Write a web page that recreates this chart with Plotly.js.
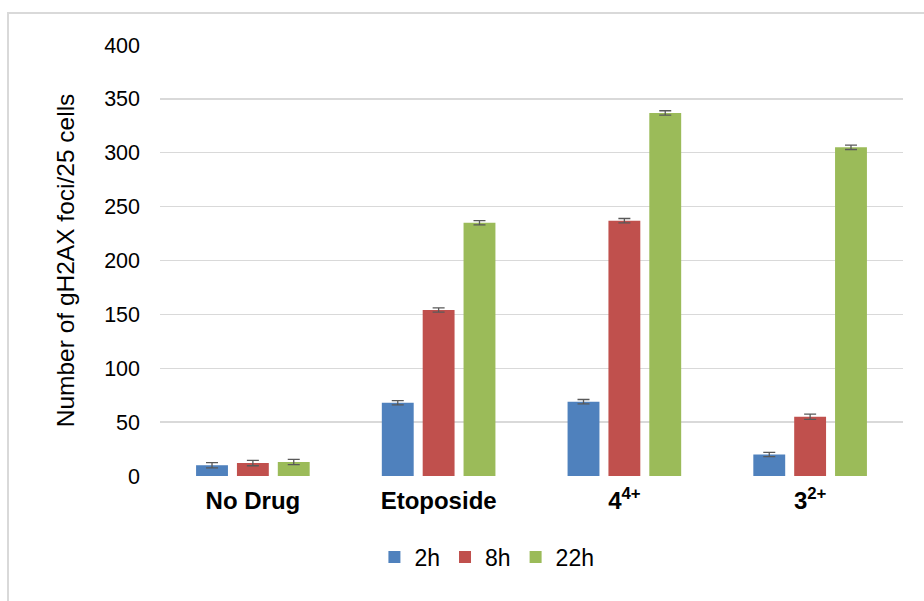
<!DOCTYPE html>
<html>
<head>
<meta charset="utf-8">
<script src="https://cdn.plot.ly/plotly-3.0.1.min.js"></script>
<style>
  html, body { margin: 0; padding: 0; background: #ffffff; overflow: hidden; }
  #frame { position: absolute; left: 7px; top: 12px; width: 1000px; height: 700px;
           border-left: 2px solid #d9d9d9; border-top: 2px solid #d9d9d9; box-sizing: border-box; }
  #chart { position: absolute; left: 0; top: 0; width: 924px; height: 601px; }
</style>
</head>
<body>
<div id="frame"></div>
<div id="chart"></div>
<script>
const categories = ["<b>No Drug</b>", "<b>Etoposide</b>", "<b>4<sup>4+</sup></b>", "<b>3<sup>2+</sup></b>"];
const seriesNames = ["2h", "8h", "22h"];
const values2h  = [10, 68, 69, 20];
const values8h  = [12, 154, 237, 55];
const values22h = [13, 235, 337, 305];
const err2h  = [2.5, 2, 2, 2];
const err8h  = [2.5, 2, 2, 2.5];
const err22h = [2.5, 2, 2, 2];
const yTicks = [0, 50, 100, 150, 200, 250, 300, 350, 400];

const colors = ["#4f81bd", "#c0504d", "#9bbb59"];
const vals = [values2h, values8h, values22h];
const errs = [err2h, err8h, err22h];

const traces = seriesNames.map((name, i) => ({
  type: "bar",
  name: name,
  x: categories,
  y: vals[i],
  marker: { color: colors[i], line: { width: 0 } },
  error_y: { type: "data", array: errs[i], visible: true, color: "#595959", thickness: 1.3, width: 6 },
  hoverinfo: "skip"
}));

const layout = {
  width: 924, height: 601,
  margin: { l: 160, r: 21, t: 45, b: 125, autoexpand: false },
  paper_bgcolor: "rgba(0,0,0,0)",
  plot_bgcolor: "rgba(0,0,0,0)",
  barmode: "group",
  bargap: 0.34,
  bargroupgap: 0.22,
  font: { family: "Arial, 'Liberation Sans', sans-serif", color: "#000000" },
  showlegend: true,
  legend: {
    orientation: "h", x: 0.44, xanchor: "center", y: -0.188, yanchor: "middle",
    font: { size: 23, color: "#000000" }, itemwidth: 30, traceorder: "normal"
  },
  xaxis: {
    type: "category",
    showgrid: false, zeroline: false, showline: false,
    ticks: "", tickfont: { size: 24, color: "#000000" },
    ticklabelstandoff: 8
  },
  yaxis: {
    range: [0, 400],
    tickvals: yTicks, ticktext: yTicks.map(String),
    showgrid: true, gridcolor: "#d9d9d9", gridwidth: 1.3,
    zeroline: false, showline: false, ticks: "",
    tickfont: { size: 21.5, color: "#000000" },
    ticklabelstandoff: 19,
    title: { text: "Number of gH2AX foci/25 cells", font: { size: 24.5, color: "#000000" }, standoff: 22 }
  }
};

Plotly.newPlot("chart", traces, layout, { displayModeBar: false, staticPlot: true });
</script>
</body>
</html>
